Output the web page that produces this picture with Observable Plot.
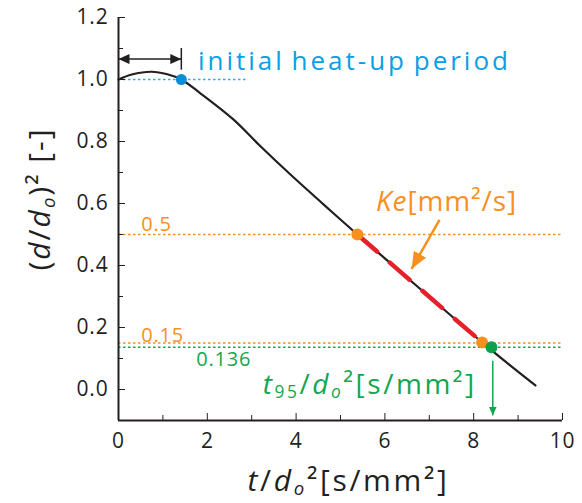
<!DOCTYPE html>
<html><head><meta charset="utf-8">
<script src="https://cdn.jsdelivr.net/npm/d3@7"></script>
<script src="https://cdn.jsdelivr.net/npm/@observablehq/plot@0.6"></script>
<style>
body{margin:0;background:#fff;}
#chart svg{display:block;}
</style></head><body><div id="chart"></div>
<script>
// ---- data ----
const curveX = [0, 0.3, 0.74, 1.1, 1.415, 1.83, 2.58, 3.18, 3.86, 4.61, 5.38, 6.5, 7.5, 8.19, 8.8, 9.39];
const curveY = [1.0, 1.016, 1.025, 1.017, 1.0, 0.957, 0.872, 0.787, 0.695, 0.598, 0.5, 0.361, 0.237, 0.152, 0.08, 0.013];
const xTicks = [0, 2, 4, 6, 8, 10];
const xMinor = [1, 3, 5, 7, 9];
const yTicks = [0, 0.2, 0.4, 0.6, 0.8, 1.0, 1.2];
const yMinor = [0.1, 0.3, 0.5, 0.7, 0.9, 1.1];
const pointX = [1.415, 5.38, 8.19, 8.40];
const pointY = [1.0, 0.5, 0.152, 0.136];
const pointKind = ["heat", "ke", "ke", "t95"];
const levelY = [1.0, 0.5, 0.15, 0.136];
const levelEnd = [2.88, 10, 10, 10];
const levelKind = ["heat", "ke", "ke", "t95"];
const levelLabel = ["", "0.5", "0.15", "0.136"];
const levelLabelX = [0, 0.51, 0.51, 1.75];
const levelLabelY = [0, 0.51, 0.152, 0.077];
const keRange = [5.38, 8.19];
const arrowX1 = [0, 7.23, 8.43], arrowY1 = [1.066, 0.547, 0.093];
const arrowX2 = [1.415, 6.60, 8.43], arrowY2 = [1.066, 0.389, -0.084];
const arrowKind = ["heat", "ke", "t95"];

const C = {ink: "#231f20", heat: "#0a9fe4", heatDot: "#0b8fd3", ke: "#f7901e", red: "#e4202a", t95: "#14a64e", t95Dot: "#0e9f4b"};
const lineC = {heat: "#3aa9e4", ke: "#f7901e", t95: "#14a64e"};

const curve = curveX.map((x, i) => ({x, y: curveY[i]}));
const keSeg = curve.filter(d => d.x >= keRange[0] && d.x <= keRange[1]);
const points = pointX.map((x, i) => ({x, y: pointY[i], k: pointKind[i]}));
const levels = levelY.map((y, i) => ({y, x2: levelEnd[i], k: levelKind[i], label: levelLabel[i], lx: levelLabelX[i], ly: levelLabelY[i]}));
const arrows = arrowX1.map((x1, i) => ({x1, y1: arrowY1[i], x2: arrowX2[i], y2: arrowY2[i], k: arrowKind[i]}));

const FONT = "'Open Sans', Lato, sans-serif";

const svg = Plot.plot({
  width: 582, height: 503,
  marginLeft: 118, marginRight: 20, marginTop: 17, marginBottom: 83,
  x: {domain: [0, 10]},
  y: {domain: [-0.1, 1.2]},
  style: {fontFamily: FONT, fontSize: "21px", color: C.ink, background: "#fff", letterSpacing: "0.8px", overflow: "visible"},
  marks: [
    // reference dotted lines
    Plot.ruleY(levels, {y: "y", x1: 0, x2: "x2", stroke: d => lineC[d.k], strokeWidth: 1.5, strokeDasharray: "2.5,2.5"}),
    Plot.text(levels.filter(d => d.label), {x: "lx", y: "ly", text: "label", fill: d => lineC[d.k], textAnchor: "start", lineAnchor: "bottom", fontSize: 20}),
    // axes
    Plot.axisX(xTicks, {tickSize: -7, tickPadding: 20, tickFormat: d => d, fontSize: 21, label: null, stroke: C.ink, fill: C.ink}),
    Plot.axisX(xMinor, {tickSize: -5, tickFormat: () => "", label: null, stroke: C.ink}),
    Plot.axisY(yTicks, {tickSize: -7, tickPadding: 17, tickFormat: d3.format(".1f"), fontSize: 21, label: null, stroke: C.ink, fill: C.ink}),
    Plot.axisY(yMinor, {tickSize: -5, tickFormat: () => "", label: null, stroke: C.ink}),
    Plot.ruleY([-0.1], {stroke: C.ink, strokeWidth: 2}),
    Plot.ruleX([0], {stroke: C.ink, strokeWidth: 2}),
    // curve
    Plot.line(curve, {x: "x", y: "y", curve: "catmull-rom", stroke: C.ink, strokeWidth: 2.2}),
    Plot.line(keSeg, {x: "x", y: "y", stroke: C.red, strokeWidth: 4.5, strokeDasharray: "26,17", strokeLinecap: "round"}),
    // arrows
    Plot.link(arrows, {x1: "x1", y1: "y1", x2: "x2", y2: "y2", stroke: d => ({heat: C.ink, ke: C.ke, t95: C.t95})[d.k], strokeWidth: d => d.k === "ke" ? 2.5 : 1.5}),
    Plot.ruleX([pointX[0]], {y1: 1.03, y2: 1.10, stroke: C.ink, strokeWidth: 1.5}),
    // points
    Plot.dot(points.filter(d => d.k === "heat"), {x: "x", y: "y", r: 5.5, fill: C.heatDot}),
    Plot.dot(points.filter(d => d.k === "ke"), {x: "x", y: "y", r: 6, fill: C.ke}),
    Plot.dot(points.filter(d => d.k === "t95"), {x: "x", y: "y", r: 6, fill: C.t95Dot}),
    // annotations
    Plot.text(["initial heat-up period"], {x: 1.79, y: 1.03, textAnchor: "start", lineAnchor: "bottom", fill: C.heat, fontSize: 26}),
    Plot.text(["§KE"], {x: 5.8, y: 0.576, textAnchor: "start", lineAnchor: "bottom", fill: C.ke, fontSize: 28}),
    Plot.text(["§T95"], {x: 3.25, y: -0.013, textAnchor: "start", lineAnchor: "bottom", fill: C.t95, fontSize: 28}),
    Plot.text(["§X"], {frameAnchor: "bottom", dx: 8, dy: 70, lineAnchor: "bottom", fill: C.ink, fontSize: 30}),
    Plot.text(["§Y"], {frameAnchor: "left", dx: -78, dy: -20, rotate: -90, textAnchor: "middle", lineAnchor: "middle", fill: C.ink, fontSize: 30})
  ]
});
document.getElementById("chart").appendChild(svg);

const NS = "http://www.w3.org/2000/svg";
function rich(placeholder, segs, size) {
  const el = [...svg.querySelectorAll("text")].find(t => t.textContent === placeholder);
  if (!el) return null;
  el.textContent = "";
  let shift = 0;
  for (const s of segs) {
    const ts = document.createElementNS(NS, "tspan");
    ts.textContent = s.t;
    if (s.i) ts.setAttribute("font-style", "italic");
    let fs = size, off = 0;
    if (s.sub) { fs = size * 0.62; off = size * 0.16; }
    ts.setAttribute("font-size", fs);
    if (off !== shift) { ts.setAttribute("dy", off - shift); shift = off; }
    el.appendChild(ts);
  }
  return el;
}
function fit(el, target) {
  if (!el) return;
  el.style.letterSpacing = "0px";
  const len = el.getComputedTextLength();
  const n = el.textContent.length;
  el.style.letterSpacing = Math.max(0, (target - len) / n) + "px";
}
const ke = rich("§KE", [{t: "Ke", i: true}, {t: "[mm²/s]"}], 28);
const t95 = rich("§T95", [{t: "t", i: true}, {t: "95", sub: true}, {t: "/"}, {t: "d", i: true}, {t: "o", i: true, sub: true}, {t: "²"}, {t: "[s/mm²]"}], 28);
const xl = rich("§X", [{t: "t", i: true}, {t: "/"}, {t: "d", i: true}, {t: "o", i: true, sub: true}, {t: "²"}, {t: "[s/mm²]"}], 30);
const yl = rich("§Y", [{t: "("}, {t: "d", i: true}, {t: "/"}, {t: "d", i: true}, {t: "o", i: true, sub: true}, {t: ")²"}, {t: " [-]"}], 30);
fit(ke, 141); fit(t95, 214); fit(xl, 202); fit(yl, 143);
const heatText = [...svg.querySelectorAll("text")].find(t => t.textContent === "initial heat-up period");
if (heatText) heatText.style.wordSpacing = "-3px";
fit(heatText, 313);

// filled arrow heads
const defs = document.createElementNS(NS, "defs");
function marker(id, color, len, wid) {
  const m = document.createElementNS(NS, "marker");
  m.setAttribute("id", id);
  m.setAttribute("markerUnits", "userSpaceOnUse");
  m.setAttribute("viewBox", `0 ${-wid / 2} ${len} ${wid}`);
  m.setAttribute("refX", len);
  m.setAttribute("refY", 0);
  m.setAttribute("markerWidth", len);
  m.setAttribute("markerHeight", wid);
  m.setAttribute("orient", "auto-start-reverse");
  const p = document.createElementNS(NS, "path");
  p.setAttribute("d", `M0,${-wid / 2}L${len},0L0,${wid / 2}Z`);
  p.setAttribute("fill", color);
  m.appendChild(p);
  defs.appendChild(m);
}
marker("mk-heat", C.ink, 11, 10);
marker("mk-ke", C.ke, 17, 14);
marker("mk-t95", C.t95, 9, 8);
svg.insertBefore(defs, svg.firstChild);
const linkG = svg.querySelector('g[aria-label="link"]');
if (linkG) {
  const paths = linkG.querySelectorAll("path");
  arrows.forEach((a, i) => {
    const p = paths[i];
    if (!p) return;
    p.setAttribute("marker-end", `url(#mk-${a.k})`);
    if (a.k === "heat") p.setAttribute("marker-start", `url(#mk-${a.k})`);
  });
}
</script>
</body></html>
